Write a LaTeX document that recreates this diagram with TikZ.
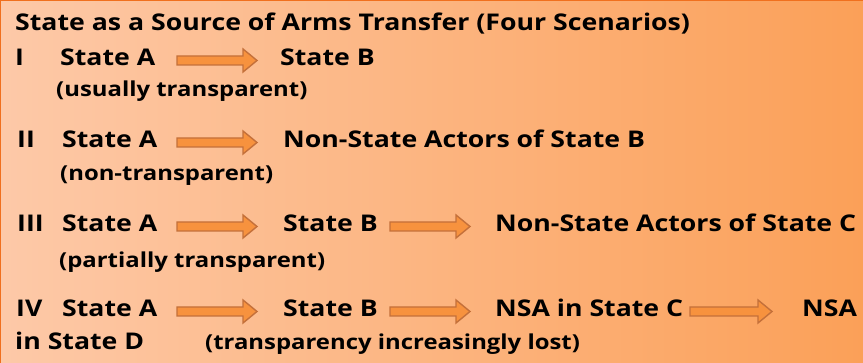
\documentclass[tikz,border=0pt]{standalone}
\usepackage{fontspec}
\setmainfont{Open Sans}[FakeStretch=1.16]
\definecolor{bgL}{RGB}{253,201,168}
\definecolor{bgR}{RGB}{251,160,88}
\definecolor{edge}{RGB}{240,112,30}
\definecolor{arrfill}{RGB}{247,146,62}
\definecolor{arrline}{RGB}{196,112,58}
\tikzset{
  txt/.style={anchor=base west, inner sep=0pt, font=\fontsize{23}{26}\selectfont\bfseries, text=black},
  subtxt/.style={txt, font=\fontsize{20.6}{24}\selectfont\bfseries},
  arrstyle/.style={fill=arrfill, draw=arrline, line width=1.4pt, line join=miter}
}
\newcommand\blockarrow[3]{%
  \draw[arrstyle] (#1,#3+4.5) -- (#2-14,#3+4.5) -- (#2-14,#3+11.5) -- (#2,#3) -- (#2-14,#3-11.5) -- (#2-14,#3-4.5) -- (#1,#3-4.5) -- cycle;}
\begin{document}
\begin{tikzpicture}[x=1pt,y=1pt]
\useasboundingbox (0,0) rectangle (863,-363);
\shade[left color=bgL, right color=bgR] (0,0) rectangle (863,-363);
\draw[edge, line width=2.5pt] (0,-363) -- (0,0) -- (863,0);
% title
\node[txt] (title) at (15,-31) {State as a Source of Arms Transfer (Four Scenarios)};
% row I
\node[txt] (r1) at (15,-66) {I};
\node[txt] (r1a) at (60,-66) {State A};
\node[txt] (r1b) at (280,-66) {State B};
\node[subtxt] (r1s) at (56,-97) {(usually transparent)};
\blockarrow{177}{257}{-60.5}
% row II
\node[txt] (r2) at (17,-148) {II};
\node[txt] (r2a) at (62,-148) {State A};
\node[txt] (r2b) at (283,-148) {Non-State Actors of State B};
\node[subtxt] (r2s) at (60,-181) {(non-transparent)};
\blockarrow{177}{257}{-142.5}
% row III
\node[txt] (r3) at (17,-232) {III};
\node[txt] (r3a) at (62,-232) {State A};
\node[txt] (r3b) at (283,-232) {State B};
\node[txt] (r3c) at (495,-232) {Non-State Actors of State C};
\node[subtxt] (r3s) at (59,-268) {(partially transparent)};
\blockarrow{177}{257}{-226.5}
\blockarrow{390}{470}{-226.5}
% row IV
\node[txt] (r4) at (16,-317) {IV};
\node[txt] (r4a) at (62,-317) {State A};
\node[txt] (r4b) at (283,-317) {State B};
\node[txt] (r4c) at (495,-317) {NSA in State C};
\node[txt] (r4d) at (802,-317) {NSA};
\node[txt] (r4e) at (15,-350) {in State D};
\node[subtxt] (r4s) at (205,-350) {(transparency increasingly lost)};
\blockarrow{177}{257}{-311.5}
\blockarrow{390}{470}{-311.5}
\blockarrow{690}{772}{-311.5}
\end{tikzpicture}
\end{document}
